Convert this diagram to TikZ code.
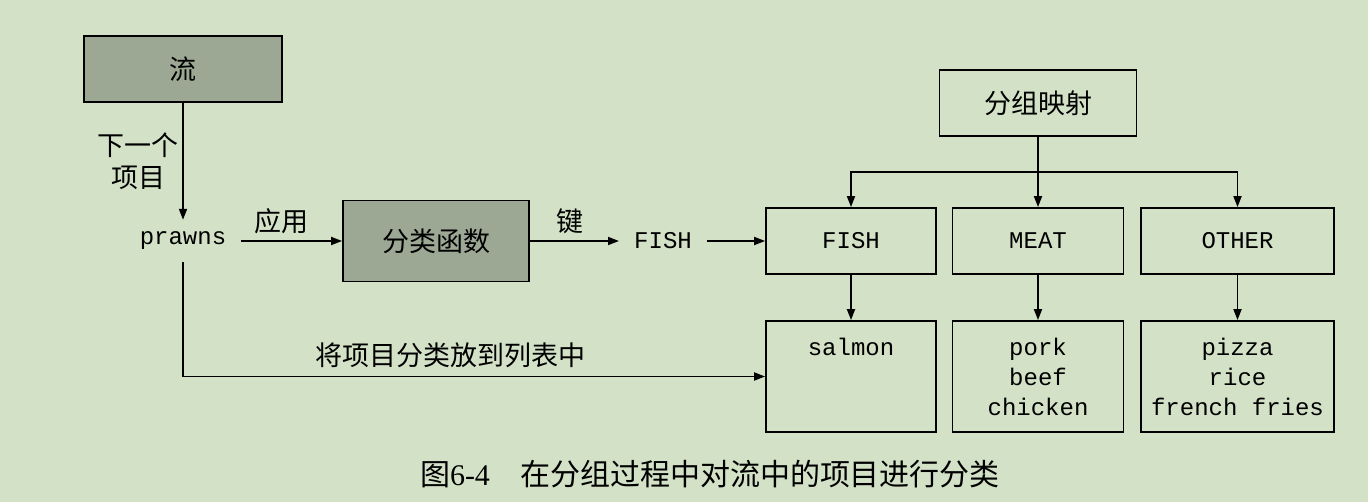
\documentclass[tikz,border=0pt]{standalone}
\usepackage{fontspec}
\setmainfont{Liberation Serif}
\setmonofont{Liberation Mono}
\newfontfamily\cjk{Noto Sans CJK SC}
\usepackage{xcolor}
\usetikzlibrary{positioning,arrows.meta}

\definecolor{bggreen}{RGB}{211,226,199}
\definecolor{boxgray}{RGB}{157,168,148}

\tikzset{
  box/.style={draw, line width=1.8pt, inner sep=0pt, align=center},
  greybox/.style={box, fill=boxgray},
  cn/.style={font=\cjk\fontsize{27}{32}\selectfont},
  mono/.style={font=\ttfamily\fontsize{24}{30}\selectfont},
  word/.style={mono, inner xsep=15pt, inner ysep=0pt, minimum height=42pt},
  link/.style={line width=1.8pt, -{Triangle[length=11pt,width=8pt]}}
}

\begin{document}
\begin{tikzpicture}[x=1pt,y=-1pt]
    % background
    \fill[bggreen] (0,0) rectangle (1368,502);

    % stream side
    \node[greybox, cn, minimum width=198pt, minimum height=66pt] (stream) at (183,69) {流};
    \node[word] (prawns) at (183,241) {prawns};
    \node[greybox, cn, minimum width=186pt, minimum height=81pt] (classifier) at (436,241) {分类函数};
    \node[word] (fishkey) at (663,241) {FISH};

    % grouping map
    \node[box, cn, minimum width=197pt, minimum height=66pt] (map) at (1038,103) {分组映射};
    \node[box, mono, minimum width=170pt, minimum height=66pt] (fish) at (851,241) {FISH};
    \node[box, mono, minimum width=171pt, minimum height=66pt] (meat) at (1038,241) {MEAT};
    \node[box, mono, minimum width=193pt, minimum height=66pt] (other) at (1237.5,241) {OTHER};

    % lists
    \node[box, mono, minimum width=170pt, minimum height=111pt] (fishlist) at (851,376.5) {salmon\\\mbox{}\\\mbox{}};
    \node[box, mono, minimum width=171pt, minimum height=111pt] (meatlist) at (1038,376.5) {pork\\beef\\chicken};
    \node[box, mono, minimum width=193pt, minimum height=111pt] (otherlist) at (1237.5,376.5) {pizza\\rice\\french fries};

    % arrows
    \draw[link] (stream) -- node[cn, left, align=center] {下一个\\项目} (prawns);
    \draw[link] (prawns) -- node[cn, above=3pt, pos=0.4] {应用} (classifier);
    \draw[link] (classifier) -- node[cn, above=3pt, pos=0.45] {键} (fishkey);
    \draw[link] (fishkey) -- (fish);
    \draw[link] (prawns) |- node[cn, above=4pt, pos=0.73] {将项目分类放到列表中} (fishlist);

    \path (map.south) ++(0,35) coordinate (fork);
    \draw[link] (map) -- (meat);
    \draw[link] (fork) -| (fish);
    \draw[link] (fork) -| (other);
    \draw[link] (fish) -- (fishlist);
    \draw[link] (meat) -- (meatlist);
    \draw[link] (other) -- (otherlist);

    % caption
    \node[font=\fontsize{30}{36}\selectfont] (caption) at (710,474) {{\cjk 图}6-4\hspace{1em}{\cjk 在分组过程中对流中的项目进行分类}};
\end{tikzpicture}
\end{document}
